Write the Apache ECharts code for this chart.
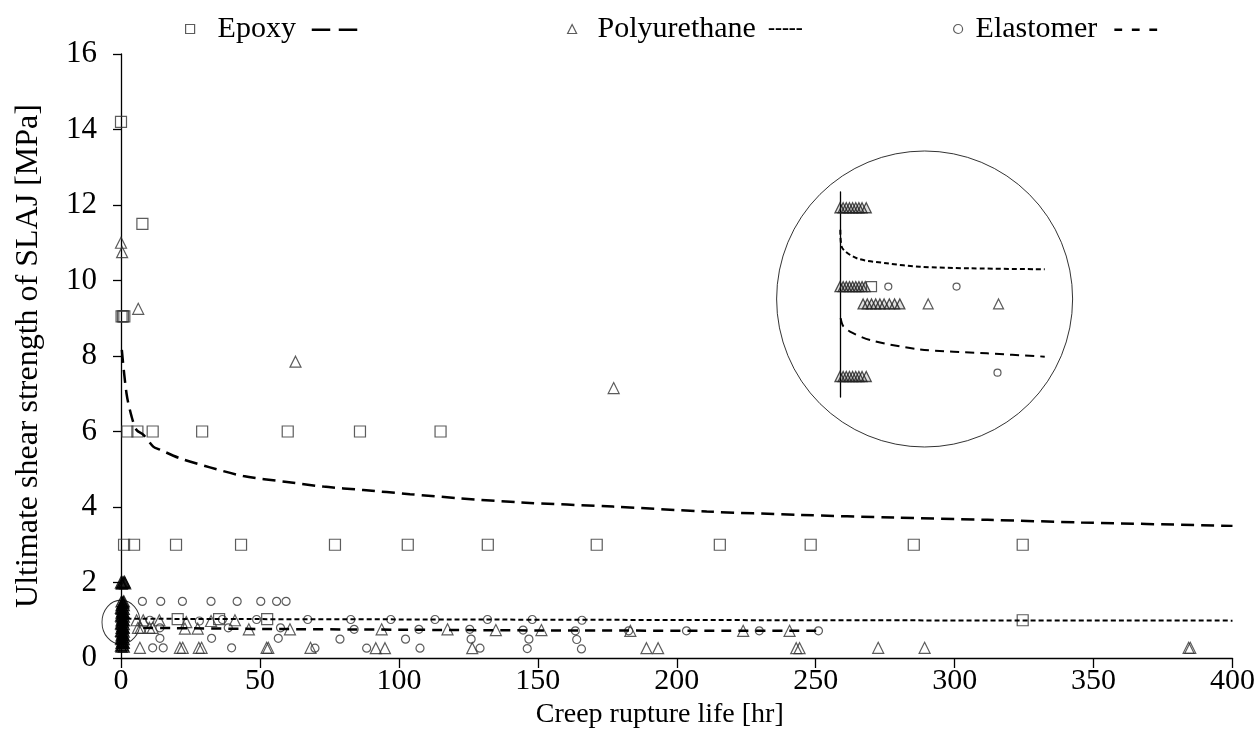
<!DOCTYPE html>
<html>
<head>
<meta charset="utf-8">
<script src="https://cdn.jsdelivr.net/npm/echarts@6/dist/echarts.min.js"></script>
<style>
html,body{margin:0;padding:0;background:#fff;}
#chart{width:1258px;height:750px;}
</style>
</head>
<body>
<div id="chart"></div>
<script>
// ---- axis ranges / labels ----
const X_MIN = 0, X_MAX = 400, X_STEP = 50;
const Y_MIN = 0, Y_MAX = 16, Y_STEP = 2;
const xTitle = 'Creep rupture life [hr]';
const yTitle = 'Ultimate shear strength of SLAJ [MPa]';
const seriesNames = ['Epoxy', 'Polyurethane', 'Elastomer'];

// ---- Epoxy (squares) ----
const epoxyPoints = [
  [0, 14.2], [7.7, 11.5], [0.2, 9.05], [0.7, 9.05], [1.2, 9.05],
  [2.3, 6], [5.9, 6], [11.4, 6], [29.2, 6], [60, 6], [86, 6], [115, 6],
  [1.1, 3], [4.7, 3], [19.8, 3], [43.2, 3], [77, 3], [103.2, 3], [132, 3],
  [171.2, 3], [215.5, 3], [248.2, 3], [285.3, 3], [324.5, 3],
  [20.4, 1.03], [35.3, 1.03], [52.6, 1.03], [324.5, 1.0]
];

// ---- Polyurethane (triangles) ----
const polyPoints = [
  [0, 11.0], [0.4, 10.75], [6.2, 9.25], [62.8, 7.85], [177.3, 7.15],
  [5.6, 1.0], [8.0, 1.0], [13.8, 1.0], [23.5, 0.95], [32.4, 0.98], [41, 1.0],
  [6.1, 0.8], [7.1, 0.8], [10.2, 0.8], [11.4, 0.8], [23, 0.78], [27.6, 0.78], [46, 0.76], [60.8, 0.76],
  [93.8, 0.76], [117.5, 0.76], [134.9, 0.74], [151.3, 0.74], [183.3, 0.72], [223.9, 0.72], [240.6, 0.72],
  [6.8, 0.27], [21.2, 0.27], [22.2, 0.27], [28, 0.27], [29, 0.27], [52.4, 0.27], [53, 0.27], [68.2, 0.27],
  [91.7, 0.26], [95, 0.26], [126.4, 0.26], [189.1, 0.26], [193.3, 0.26], [243, 0.26], [244.2, 0.26],
  [272.5, 0.27], [289.2, 0.27], [384.2, 0.27], [384.8, 0.27]
];
// dense stack of polyurethane specimens that failed almost at once (x ~ 0)
const polyNearZero = [
  [0, 2.0], [0.5, 2.0], [1.0, 2.0], [1.5, 1.98], [0.3, 1.97], [1.2, 2.02],
  [0.2, 1.5], [1.0, 1.5], [0.5, 1.45], [0.2, 1.4], [1.0, 1.4], [0.6, 1.35],
  [0.2, 1.3], [1.0, 1.3], [0.5, 1.25], [0.2, 1.2], [1.0, 1.2], [0.6, 1.15],
  [0.2, 1.1], [1.0, 1.1], [0.5, 1.05], [0.2, 1.0], [1.0, 1.0], [0.6, 0.95],
  [0.2, 0.9], [1.0, 0.9], [0.5, 0.85], [0.2, 0.8], [1.0, 0.8], [0.6, 0.75],
  [0.2, 0.7], [1.0, 0.7], [0.5, 0.65], [0.2, 0.6], [1.0, 0.6], [0.6, 0.55],
  [0.2, 0.5], [1.0, 0.5], [0.5, 0.45], [0.2, 0.4], [1.0, 0.4], [0.6, 0.35],
  [0.2, 0.3], [1.0, 0.3],
  [0.8, 1.47], [0.0, 1.33], [0.8, 1.22], [0.0, 1.12], [0.8, 1.02], [0.0, 0.92],
  [0.8, 0.82], [0.0, 0.72], [0.8, 0.62], [0.0, 0.52], [0.8, 0.42], [0.0, 0.33]
];

// ---- Elastomer (circles) ----
const elastPoints = [
  [7.7, 1.5], [14.3, 1.5], [22.1, 1.5], [32.4, 1.5], [41.8, 1.5], [50.3, 1.5], [56, 1.5], [59.4, 1.5],
  [10.4, 1.0], [28.2, 0.98], [36.5, 1.02], [48.8, 1.02], [67.2, 1.02], [82.7, 1.02], [97.1, 1.02],
  [113, 1.02], [131.9, 1.02], [148, 1.02], [165.9, 1.0],
  [14, 0.8], [38.6, 0.8], [57.4, 0.8], [83.9, 0.76], [107.2, 0.76], [125.5, 0.76], [144.7, 0.74],
  [163.5, 0.72], [182.7, 0.72], [203.5, 0.72], [229.7, 0.72], [251, 0.72],
  [14, 0.52], [32.6, 0.52], [56.6, 0.52], [78.8, 0.5], [102.4, 0.5], [126, 0.5], [146.8, 0.5], [164, 0.49],
  [11.4, 0.27], [15.2, 0.27], [39.8, 0.27], [69.8, 0.26], [88.4, 0.26], [107.6, 0.26], [129.2, 0.26],
  [146.2, 0.25], [165.7, 0.24]
];

// ---- fitted trend lines ----
const epoxyFit = [
  [0.3, 8.16], [2, 7.0], [3.8, 6.4], [5.6, 6.04], [8, 5.92], [11.6, 5.6], [14, 5.52], [21.2, 5.29],
  [32, 5.05], [44, 4.82], [59, 4.67], [72.8, 4.54], [87.2, 4.45], [104, 4.34], [122, 4.23],
  [144, 4.12], [177, 4.01], [210.8, 3.88], [244.5, 3.79], [278.2, 3.72], [311.9, 3.66],
  [345.5, 3.59], [400, 3.5]
];
const polyFit = [[2, 1.04], [50, 1.03], [120, 1.02], [250, 1.0], [400, 0.99]];
const elastFit = [[8, 0.8], [50, 0.77], [100, 0.75], [150, 0.73], [251, 0.72]];

// ---- zoom rings (data coords of main plot) ----
const smallRing = [[0, 0.95]];
const bigRing = [[289.2, 9.51]];

// ---- inset (magnified view) ----
const insetTriangles = [
  [0, 1.5], [0.03, 1.5], [0.06, 1.5], [0.09, 1.5], [0.12, 1.5], [0.15, 1.5], [0.18, 1.5], [0.21, 1.5], [0.25, 1.5],
  [0, 1.0], [0.03, 1.0], [0.06, 1.0], [0.09, 1.0], [0.12, 1.0], [0.15, 1.0], [0.18, 1.0], [0.21, 1.0], [0.24, 1.0],
  [0.22, 0.89], [0.26, 0.89], [0.3, 0.89], [0.34, 0.89], [0.38, 0.89], [0.42, 0.89], [0.47, 0.89], [0.52, 0.89], [0.57, 0.89],
  [0, 0.43], [0.03, 0.43], [0.06, 0.43], [0.09, 0.43], [0.12, 0.43], [0.15, 0.43], [0.18, 0.43], [0.21, 0.43], [0.25, 0.43]
];
const insetTrianglesSingle = [[0.84, 0.89], [1.51, 0.89]];
const insetSquares = [[0.3, 1.0]];
const insetCircles = [[0.46, 1.0], [1.11, 1.0], [1.5, 0.454]];
const insetPolyFit = [[0.003, 1.36], [0.016, 1.253], [0.16, 1.18], [0.445, 1.148], [0.76, 1.126], [1.24, 1.116], [1.95, 1.11]];
const insetElastFit = [[0.006, 0.8], [0.03, 0.75], [0.095, 0.715], [0.286, 0.661], [0.76, 0.602], [1.4, 0.577], [1.95, 0.556]];

// ---- styles ----
const FONT = "'Liberation Serif', 'Times New Roman', serif";
const MK = '#333';
const hollow = {color: 'rgba(0,0,0,0)', borderColor: MK, borderWidth: 1.2};
const dense = {color: 'rgba(0,0,0,0.35)', borderColor: '#000', borderWidth: 1.3};

function scatter(name, data, symbol, size, xi, yi, style) {
  return {type: 'scatter', name: name, data: data, symbol: symbol, symbolSize: size,
    xAxisIndex: xi || 0, yAxisIndex: yi || 0, itemStyle: style || hollow, clip: false,
    emphasis: {disabled: true}, silent: true, z: 3};
}
function fitLine(name, data, dash, width, xi, yi) {
  return {type: 'line', name: name, data: data, showSymbol: false, smooth: 0.3,
    xAxisIndex: xi || 0, yAxisIndex: yi || 0,
    lineStyle: {color: '#000', width: width, type: dash}, silent: true, z: 4};
}

const legendDefs = [
  {name: seriesNames[0], icon: 'rect', left: 180, pad: 18, rpad: 16, dash: '{d|– –}'},
  {name: seriesNames[1], icon: 'triangle', left: 562, pad: 16, rpad: 12, dash: '{s|-----}'},
  {name: seriesNames[2], icon: 'circle', left: 948, pad: 8, rpad: 16, dash: '{e|- - -}'}
];
const LH = 36;

const option = {
  animation: false,
  backgroundColor: '#fff',
  textStyle: {fontFamily: FONT},
  legend: legendDefs.map(function (d) {
    return {
      data: [d.name], left: d.left, top: 6, icon: d.icon, itemWidth: 9, itemHeight: 9,
      itemStyle: {color: 'rgba(0,0,0,0)', borderColor: MK, borderWidth: 1.2},
      selectedMode: false,
      formatter: function (n) { return '{t|' + n + '}' + d.dash; },
      textStyle: {fontFamily: FONT, fontSize: 30, color: '#000', lineHeight: LH,
        rich: {
          t: {fontFamily: FONT, fontSize: 30, color: '#000', lineHeight: LH, padding: [0, d.rpad, 0, d.pad]},
          d: {fontFamily: FONT, fontSize: 36, fontWeight: 'bold', color: '#000', lineHeight: LH},
          s: {fontFamily: FONT, fontSize: 21, fontWeight: 'bold', color: '#000', lineHeight: LH},
          e: {fontFamily: FONT, fontSize: 30, fontWeight: 'bold', color: '#000', lineHeight: LH}
        }}
    };
  }),
  grid: [
    {left: 121, right: 25, top: 54, bottom: 92, containLabel: false},
    {left: 840, top: 192, width: 210, height: 205, containLabel: false}
  ],
  xAxis: [
    {type: 'value', gridIndex: 0, min: X_MIN, max: X_MAX, interval: X_STEP,
      name: xTitle, nameLocation: 'middle', nameGap: 42,
      nameTextStyle: {fontFamily: FONT, fontSize: 28, color: '#000', padding: [0, 34, 0, 0]},
      axisLine: {show: true, onZero: false, lineStyle: {color: '#000', width: 1.3}},
      axisTick: {show: true, length: 10, lineStyle: {color: '#000', width: 1.3}},
      axisLabel: {fontFamily: FONT, fontSize: 30, color: '#000', margin: 8},
      splitLine: {show: false}},
    {type: 'value', gridIndex: 1, min: 0, max: 2, show: false}
  ],
  yAxis: [
    {type: 'value', gridIndex: 0, min: Y_MIN, max: Y_MAX, interval: Y_STEP,
      name: yTitle, nameLocation: 'middle', nameGap: 76, nameRotate: 90,
      nameTextStyle: {fontFamily: FONT, fontSize: 32, color: '#000'},
      axisLine: {show: true, onZero: false, lineStyle: {color: '#000', width: 1.3}},
      axisTick: {show: true, length: 8, lineStyle: {color: '#000', width: 1.3}},
      axisLabel: {fontFamily: FONT, fontSize: 31, color: '#000', margin: 24},
      splitLine: {show: false}},
    {type: 'value', gridIndex: 1, min: 0.3, max: 1.6,
      axisLine: {show: true, onZero: false, lineStyle: {color: '#000', width: 1.3}},
      axisTick: {show: false}, axisLabel: {show: false}, splitLine: {show: false}}
  ],
  series: [
    scatter(seriesNames[0], epoxyPoints, 'rect', 11),
    scatter(seriesNames[1], polyPoints, 'triangle', 11),
    scatter('Polyurethane (x≈0)', polyNearZero, 'triangle', 11, 0, 0, dense),
    scatter(seriesNames[2], elastPoints, 'circle', 8),
    fitLine('Epoxy fit', epoxyFit, [13, 7], 2.5),
    fitLine('Polyurethane fit', polyFit, [5, 3], 2),
    fitLine('Elastomer fit', elastFit, [10, 7], 2.5),
    {type: 'scatter', name: 'ring-small', data: smallRing, symbol: 'circle', symbolSize: [38, 44],
      itemStyle: {color: 'rgba(0,0,0,0)', borderColor: '#000', borderWidth: 1}, clip: false, silent: true, z: 2},
    {type: 'scatter', name: 'ring-big', data: bigRing, symbol: 'circle', symbolSize: 296,
      itemStyle: {color: 'rgba(0,0,0,0)', borderColor: '#000', borderWidth: 1}, clip: false, silent: true, z: 2},
    scatter('inset-tri', insetTriangles, 'triangle', 10, 1, 1, {color: 'rgba(0,0,0,0.15)', borderColor: '#222', borderWidth: 1.3}),
    scatter('inset-tri-single', insetTrianglesSingle, 'triangle', 10, 1, 1),
    scatter('inset-sq', insetSquares, 'rect', 10, 1, 1),
    scatter('inset-circ', insetCircles, 'circle', 7, 1, 1),
    fitLine('inset-poly-fit', insetPolyFit, [5, 3], 2, 1, 1),
    fitLine('inset-elast-fit', insetElastFit, [9, 6], 2, 1, 1)
  ]
};

const chart = echarts.init(document.getElementById('chart'), null, {renderer: 'canvas'});
chart.setOption(option);
</script>
</body>
</html>
